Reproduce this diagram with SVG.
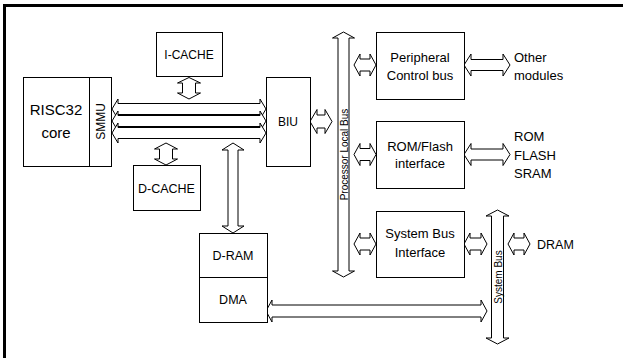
<svg xmlns="http://www.w3.org/2000/svg" width="623" height="358" viewBox="0 0 623 358">
<style>
.box{fill:#fff;stroke:#000;stroke-width:1}
.arr{fill:#fff;stroke:#000;stroke-width:1;stroke-linejoin:miter}
text{font-family:"Liberation Sans",Arial,sans-serif;fill:#000}
.t{font-size:13px;text-anchor:middle}
.s{font-size:12px;text-anchor:middle}
.l{font-size:13px}
.bus{font-size:10px;text-anchor:middle}
</style>
<rect x="0" y="0" width="623" height="358" fill="#fff"/>
<path d="M4.5 358 V5.5 H623" fill="none" stroke="#000" stroke-width="3"/>
<g id="connectors">
<path class="arr" d="M112 109 L118 99 L118 103.5 L260 103.5 L260 99 L266 109 L260 119 L260 114.5 L118 114.5 L118 119 Z"/>
<path class="arr" d="M112 121 L118 111 L118 115.5 L260 115.5 L260 111 L266 121 L260 131 L260 126.5 L118 126.5 L118 131 Z"/>
<path class="arr" d="M112 133 L118 123 L118 127.5 L260 127.5 L260 123 L266 133 L260 143 L260 138.5 L118 138.5 L118 143 Z"/>
<path class="arr" d="M189 77.5 L200.5 83 L195.5 83 L195.5 93 L200.5 93 L189 99 L177.5 93 L182.5 93 L182.5 83 L177.5 83 Z"/>
<path class="arr" d="M166 143 L177.5 149 L172.5 149 L172.5 159 L177.5 159 L166 165 L154.5 159 L159.5 159 L159.5 149 L154.5 149 Z"/>
<path class="arr" d="M233 143 L244 150 L238 150 L238 226 L244 226 L233 233 L222 226 L228 226 L228 150 L222 150 Z"/>
<path class="arr" d="M310 121.5 L317 109.5 L317 115 L325 115 L325 109.5 L332 121.5 L325 133.5 L325 128 L317 128 L317 133.5 Z"/>
<path class="arr" d="M343.5 32 L354.5 38 L349 38 L349 271 L354.5 271 L343.5 277 L332.5 271 L338 271 L338 38 L332.5 38 Z"/>
<path class="arr" d="M354 65 L360 54 L360 59 L370 59 L370 54 L376 65 L370 76 L370 71 L360 71 L360 76 Z"/>
<path class="arr" d="M464 65 L471 54 L471 59.5 L503 59.5 L503 54 L510 65 L503 76 L503 70.5 L471 70.5 L471 76 Z"/>
<path class="arr" d="M354 154.5 L360 143.5 L360 148.5 L370 148.5 L370 143.5 L376 154.5 L370 165.5 L370 160.5 L360 160.5 L360 165.5 Z"/>
<path class="arr" d="M464 154.5 L471 143.5 L471 149 L503 149 L503 143.5 L510 154.5 L503 165.5 L503 160 L471 160 L471 165.5 Z"/>
<path class="arr" d="M354 244 L360 233 L360 238 L370 238 L370 233 L376 244 L370 255 L370 250 L360 250 L360 255 Z"/>
<path class="arr" d="M464 244 L470 233 L470 238 L481 238 L481 233 L487 244 L481 255 L481 250 L470 250 L470 255 Z"/>
<path class="arr" d="M508 244 L514 233 L514 238 L524 238 L524 233 L530 244 L524 255 L524 250 L514 250 L514 255 Z"/>
<path class="arr" d="M266 311 L272 300 L272 305 L481 305 L481 300 L487 311 L481 322 L481 317 L272 317 L272 322 Z"/>
<path class="arr" d="M497.5 210 L509 216 L503.5 216 L503.5 338 L509 338 L497.5 344 L486 338 L491.5 338 L491.5 216 L486 216 Z"/>
<text class="bus" transform="translate(347.5,154.5) rotate(-90)">Processor Local Bus</text>
<text class="bus" transform="translate(501.5,277) rotate(-90)">System Bus</text>
</g>
<g id="risc32">
<rect class="box" x="23.5" y="77.5" width="66" height="89"/>
<text x="56" y="115" style="font-size:15px;text-anchor:middle">RISC32</text>
<text x="56" y="138" style="font-size:15px;text-anchor:middle">core</text>
</g>
<g id="smmu">
<rect class="box" x="89.5" y="77.5" width="22" height="89"/>
<text class="s" transform="translate(105,121.5) rotate(-90)">SMMU</text>
</g>
<g id="icache">
<rect class="box" x="156.5" y="32.5" width="66" height="44"/>
<text class="s" x="189" y="59">I-CACHE</text>
</g>
<g id="biu">
<rect class="box" x="266.5" y="77.5" width="44" height="89"/>
<text class="s" x="288" y="126">BIU</text>
</g>
<g id="dcache">
<rect class="box" x="133.5" y="165.5" width="67" height="45"/>
<text class="s" x="166.5" y="193" style="font-size:12.5px">D-CACHE</text>
</g>
<g id="dram">
<rect class="box" x="199.5" y="233.5" width="68" height="44"/>
<text class="s" x="233" y="260" style="font-size:12.5px">D-RAM</text>
</g>
<g id="dma">
<rect class="box" x="199.5" y="277.5" width="68" height="45"/>
<text class="s" x="233" y="304" style="font-size:12.5px">DMA</text>
</g>
<g id="peripheral">
<rect class="box" x="376.5" y="32.5" width="88" height="67"/>
<text class="t" x="420" y="62">Peripheral</text>
<text class="t" x="420" y="80">Control bus</text>
</g>
<g id="romflash">
<rect class="box" x="376.5" y="121.5" width="88" height="67"/>
<text class="t" x="420" y="151">ROM/Flash</text>
<text class="t" x="420" y="168">interface</text>
</g>
<g id="sysbusif">
<rect class="box" x="376.5" y="211.5" width="88" height="66"/>
<text class="t" x="420" y="238">System Bus</text>
<text class="t" x="420" y="257">Interface</text>
</g>
<g id="other">
<text class="l" x="514" y="62">Other</text>
<text class="l" x="514" y="80">modules</text>
</g>
<g id="memories">
<text class="l" x="514" y="141">ROM</text>
<text class="l" x="514" y="159.5">FLASH</text>
<text class="l" x="514" y="178">SRAM</text>
</g>
<g id="dramlabel">
<text class="l" x="537" y="249" style="font-size:12.5px">DRAM</text>
</g>
</svg>
